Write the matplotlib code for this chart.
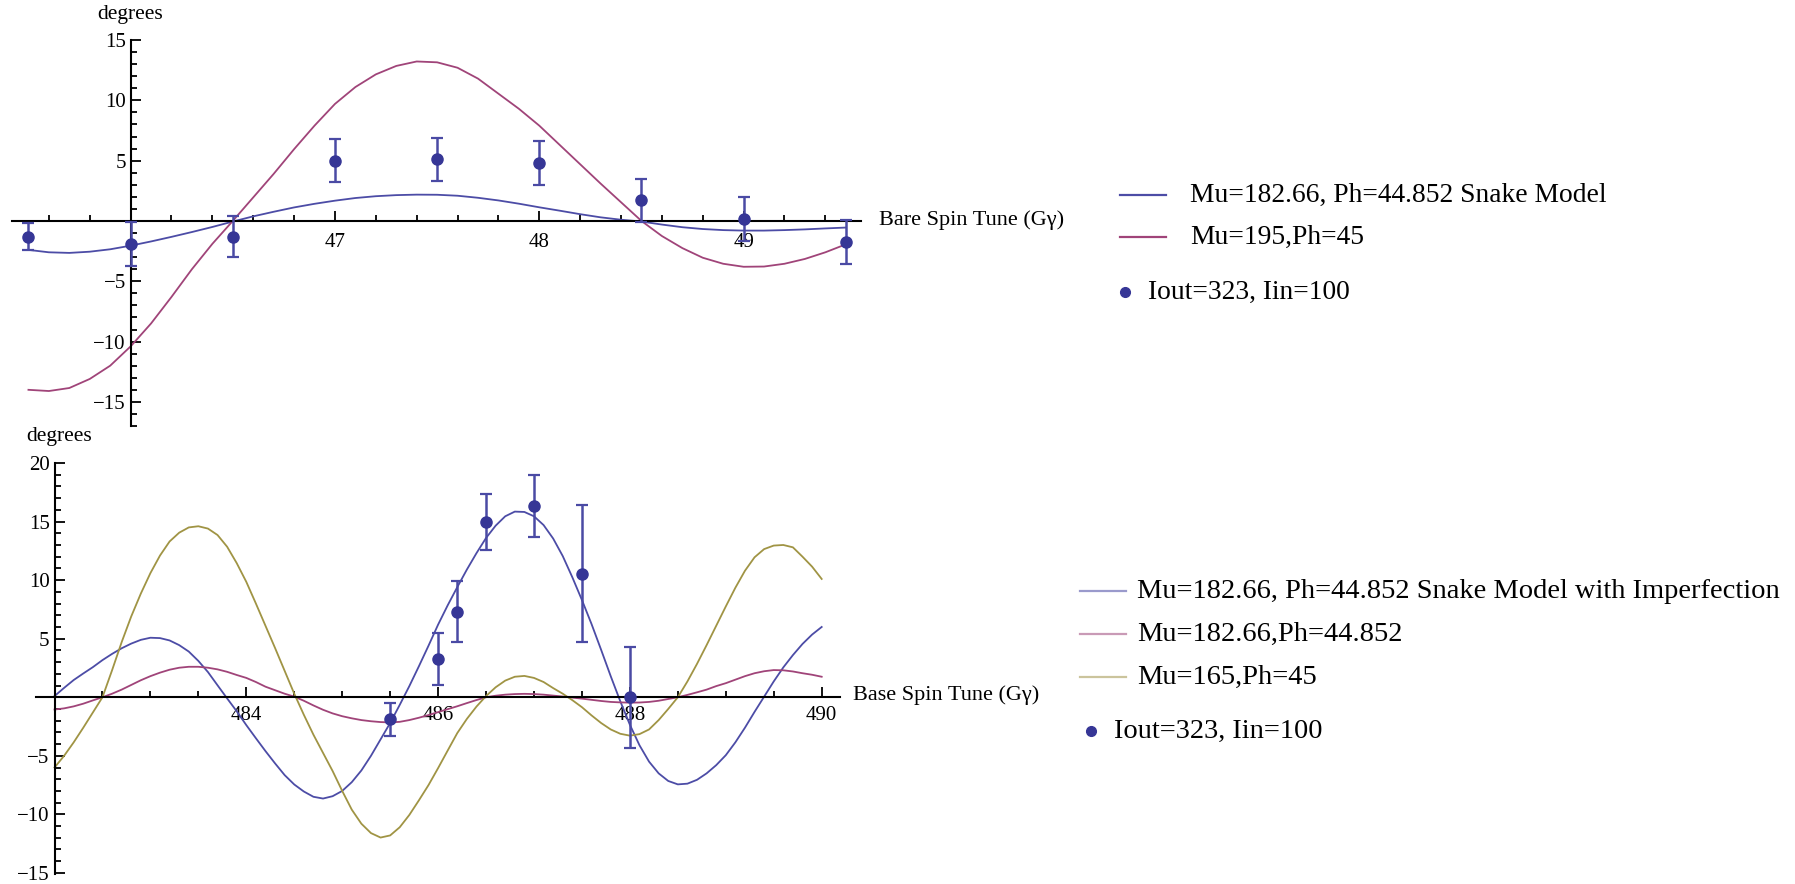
import numpy as np
import matplotlib
matplotlib.use('Agg')
import matplotlib.pyplot as plt
from matplotlib.lines import Line2D
from matplotlib.ticker import MultipleLocator, FixedLocator

plt.rcParams['font.family'] = ['Liberation Serif', 'DejaVu Serif']
plt.rcParams['axes.unicode_minus'] = True

# ---- upper panel: bare spin tune ----
bare_x = [45.5, 46.0, 46.5, 47.0, 47.5, 48.0, 48.5, 49.0, 49.5]
bare_y = [-1.3, -1.9, -1.3, 5.0, 5.1, 4.8, 1.7, 0.15, -1.75]
bare_err = [1.1, 1.8, 1.7, 1.8, 1.8, 1.85, 1.8, 1.8, 1.8]

# model curves sampled every 0.1 from 45.5 to 49.5
bare_grid = np.round(np.arange(45.5, 49.501, 0.1), 2)
snake_model = [-2.4, -2.6, -2.65, -2.55, -2.35, -2.05, -1.7, -1.32, -0.92, -0.5,
               -0.05, 0.38, 0.76, 1.12, 1.42, 1.68, 1.9, 2.05, 2.14, 2.18,
               2.17, 2.09, 1.92, 1.7, 1.43, 1.13, 0.85, 0.56, 0.3, 0.1,
               -0.05, -0.3, -0.52, -0.67, -0.76, -0.8, -0.8, -0.76, -0.7, -0.62,
               -0.55]
mu195 = [-14.0, -14.1, -13.85, -13.1, -12.0, -10.4, -8.5, -6.3, -4.0, -1.9,
         0.0, 1.95, 3.9, 5.95, 7.9, 9.7, 11.1, 12.15, 12.85, 13.22,
         13.15, 12.7, 11.8, 10.55, 9.3, 7.9, 6.3, 4.7, 3.1, 1.55,
         0.0, -1.25, -2.25, -3.05, -3.55, -3.8, -3.78, -3.55, -3.15, -2.6,
         -1.94]

# ---- lower panel: base spin tune ----
base_x = [485.5, 486.0, 486.2, 486.5, 487.0, 487.5, 488.0]
base_y = [-1.9, 3.25, 7.3, 14.95, 16.3, 10.55, 0.0]
base_err = [1.4, 2.2, 2.6, 2.4, 2.65, 5.85, 4.3]

# model curves sampled every 0.1 from 482 to 490
base_grid = np.round(np.arange(482.0, 490.001, 0.1), 2)
imperfection = [0.1, 0.8, 1.47, 2.03, 2.57, 3.17, 3.7, 4.18, 4.58, 4.9,
                5.08, 5.05, 4.85, 4.45, 3.9, 3.1, 2.15, 1.02, -0.1, -1.2,
                -2.38, -3.5, -4.6, -5.65, -6.65, -7.45, -8.05, -8.5, -8.65, -8.45,
                -8.0, -7.25, -6.25, -5.0, -3.6, -2.2, -0.65, 0.95, 2.65, 4.4,
                6.2, 7.85, 9.4, 10.9, 12.3, 13.6, 14.65, 15.45, 15.85, 15.82,
                15.45, 14.7, 13.55, 12.05, 10.24, 8.3, 6.25, 4.05, 1.8, -0.35,
                -2.35, -4.1, -5.5, -6.5, -7.15, -7.44, -7.38, -7.05, -6.5, -5.8,
                -4.95, -3.85, -2.6, -1.25, 0.05, 1.35, 2.55, 3.6, 4.55, 5.35,
                6.0]
mu18266 = [-1.05, -0.95, -0.78, -0.55, -0.27, 0.0, 0.3, 0.65, 1.05, 1.45,
           1.8, 2.1, 2.35, 2.52, 2.6, 2.6, 2.52, 2.38, 2.17, 1.9,
           1.65, 1.3, 0.9, 0.6, 0.3, 0.05, -0.3, -0.7, -1.07, -1.38,
           -1.62, -1.8, -1.95, -2.05, -2.12, -2.15, -2.1, -1.95, -1.75, -1.52,
           -1.27, -1.02, -0.77, -0.5, -0.24, 0.0, 0.13, 0.22, 0.27, 0.29,
           0.27, 0.22, 0.14, 0.06, -0.03, -0.12, -0.22, -0.32, -0.4, -0.44,
           -0.46, -0.45, -0.4, -0.3, -0.15, 0.0, 0.2, 0.42, 0.65, 0.95,
           1.2, 1.5, 1.8, 2.05, 2.22, 2.32, 2.3, 2.2, 2.05, 1.92,
           1.75]
mu165 = [-6.0, -5.0, -3.85, -2.6, -1.3, 0.0, 2.3, 4.7, 6.9, 8.85,
         10.6, 12.1, 13.3, 14.05, 14.5, 14.6, 14.4, 13.85, 12.85, 11.45,
         9.85, 8.0, 6.1, 4.2, 2.25, 0.3, -1.5, -3.2, -4.75, -6.3,
         -8.0, -9.6, -10.8, -11.6, -11.98, -11.8, -11.1, -10.05, -8.8, -7.5,
         -6.05, -4.55, -3.06, -1.85, -0.8, 0.1, 0.85, 1.42, 1.75, 1.82,
         1.65, 1.3, 0.78, 0.3, -0.25, -0.85, -1.55, -2.2, -2.75, -3.12,
         -3.28, -3.15, -2.75, -1.95, -1.0, 0.0, 1.35, 2.85, 4.45, 6.1,
         7.75, 9.35, 10.8, 11.95, 12.65, 12.95, 13.0, 12.8, 12.0, 11.15,
         10.1]

blue = '#4c4ca6'
magenta = '#a04479'
olive = '#a09444'
dots = '#363696'

W, H = 1795, 884


def frame(left, top, right, bottom):
    return [left / W, 1 - bottom / H, (right - left) / W, (bottom - top) / H]


def style_axes(ax, x0, xpad):
    for side in ['top', 'right']:
        ax.spines[side].set_visible(False)
    ax.spines['left'].set_position(('data', x0))
    ax.spines['bottom'].set_position(('data', 0))
    for side in ['left', 'bottom']:
        ax.spines[side].set_linewidth(1.5)
    ax.tick_params(which='both', direction='in', width=1.3, labelsize=15)
    ax.tick_params(which='major', length=7)
    ax.tick_params(which='minor', length=4)
    ax.tick_params(axis='x', which='major', pad=xpad)
    ax.patch.set_alpha(0)


fig = plt.figure(figsize=(17.95, 8.84), dpi=100)

ax1 = fig.add_axes(frame(11.7, 40, 860.7, 426))
ax1.set_xlim(45.418, 49.573)
ax1.set_ylim(-17, 15)
style_axes(ax1, 46, 9)
ax1.xaxis.set_major_locator(FixedLocator([47, 48, 49]))
ax1.xaxis.set_minor_locator(MultipleLocator(0.2))
ax1.yaxis.set_major_locator(FixedLocator([-15, -10, -5, 5, 10, 15]))
ax1.yaxis.set_minor_locator(MultipleLocator(1))

ax1.plot(bare_grid, snake_model, color=blue, lw=1.3, solid_joinstyle='round')
ax1.plot(bare_grid, mu195, color=magenta, lw=1.3, solid_joinstyle='round')
ax1.errorbar(bare_x, bare_y, yerr=bare_err, fmt='o', color=dots, ecolor='#4a4aa4', ms=8,
             elinewidth=1.8, capsize=4, capthick=1.6, zorder=5)

ax2 = fig.add_axes(frame(36.3, 463, 839.9, 873.5))
ax2.set_xlim(481.81, 490.19)
ax2.set_ylim(-15.05, 20)
style_axes(ax2, 482, 6)
ax2.xaxis.set_major_locator(FixedLocator([484, 486, 488, 490]))
ax2.xaxis.set_minor_locator(MultipleLocator(0.5))
ax2.yaxis.set_major_locator(FixedLocator([-15, -10, -5, 5, 10, 15, 20]))
ax2.yaxis.set_minor_locator(MultipleLocator(1))

ax2.plot(base_grid, imperfection, color=blue, lw=1.3, solid_joinstyle='round')
ax2.plot(base_grid, mu18266, color=magenta, lw=1.3, solid_joinstyle='round')
ax2.plot(base_grid, mu165, color=olive, lw=1.3, solid_joinstyle='round')
ax2.errorbar(base_x, base_y, yerr=base_err, fmt='o', color=dots, ecolor='#4a4aa4', ms=8,
             elinewidth=1.8, capsize=4, capthick=1.6, zorder=5)

# axis titles
fig.text(130 / W, 1 - 15 / H, 'degrees', ha='center', va='center', fontsize=15.5)
fig.text(59 / W, 1 - 436 / H, 'degrees', ha='center', va='center', fontsize=15.5)
fig.text(879 / W, 1 - 220 / H, 'Bare Spin Tune (Gγ)', ha='left', va='center', fontsize=16)
fig.text(853 / W, 1 - 695 / H, 'Base Spin Tune (Gγ)', ha='left', va='center', fontsize=16)


def legend_line(x1, x2, y, color, text, tx, size):
    fig.add_artist(Line2D([x1 / W, x2 / W], [1 - y / H, 1 - y / H], color=color, lw=1.6,
                          transform=fig.transFigure))
    fig.text(tx / W, 1 - y / H, text, ha='left', va='center', fontsize=size)


def legend_dot(x, y, text, tx, size):
    fig.add_artist(Line2D([x / W], [1 - y / H], marker='o', ms=7, color=dots, lw=0,
                          transform=fig.transFigure))
    fig.text(tx / W, 1 - y / H, text, ha='left', va='center', fontsize=size)


legend_line(1120, 1166, 195, blue, 'Mu=182.66, Ph=44.852 Snake Model', 1190, 19.8)
legend_line(1120, 1166, 237, magenta, 'Mu=195,Ph=45', 1190, 19.8)
legend_dot(1125, 292, 'Iout=323, Iin=100', 1148, 19.8)

legend_line(1080, 1126, 591, '#9a9acc', 'Mu=182.66, Ph=44.852 Snake Model with Imperfection', 1137, 20.5)
legend_line(1080, 1126, 634, '#c99ab6', 'Mu=182.66,Ph=44.852', 1137, 20.5)
legend_line(1080, 1126, 677, '#cbc49c', 'Mu=165,Ph=45', 1137, 20.5)
legend_dot(1091, 731, 'Iout=323, Iin=100', 1114, 20.5)

fig.savefig('out.png', dpi=100)
